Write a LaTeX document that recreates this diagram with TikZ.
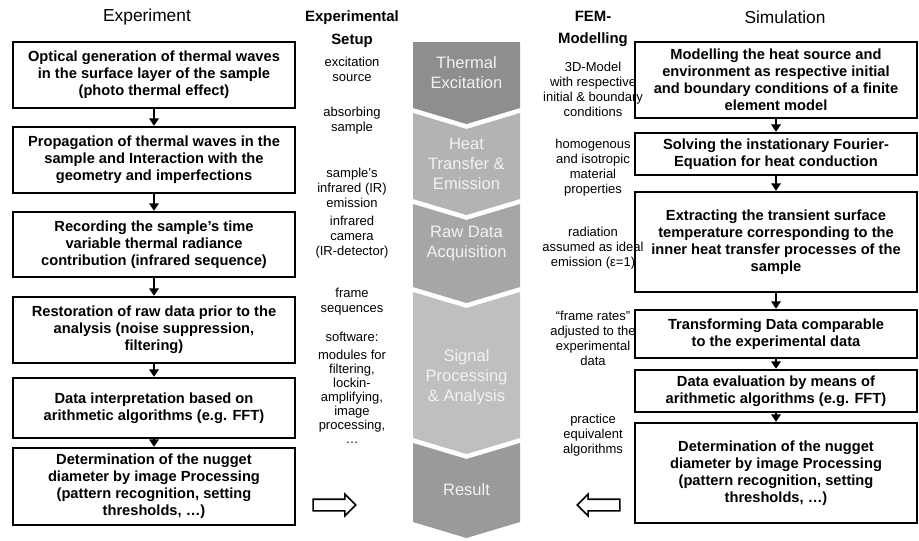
\documentclass[tikz,border=0pt]{standalone}
\usepackage{fontspec}
\setmainfont{Liberation Sans}
\usetikzlibrary{arrows.meta,shapes.arrows}

\definecolor{chevA}{HTML}{8E8E8E}
\definecolor{chevB}{HTML}{B3B3B3}
\definecolor{chevC}{HTML}{A6A6A6}
\definecolor{chevD}{HTML}{BFBFBF}
\definecolor{chevE}{HTML}{9A9A9A}

\begin{document}
\begin{tikzpicture}[x=0.75pt,y=-0.75pt,
    box/.style={draw,line width=1.8pt,minimum width=211.5pt,inner sep=0pt,align=center,
      font=\fontsize{11}{12.75}\selectfont\bfseries},
    flow/.style={-{Triangle[width=7pt,length=5.5pt]},line width=1.5pt},
    head/.style={font=\fontsize{13}{15}\selectfont},
    colhead/.style={align=center,font=\fontsize{11.2}{17}\selectfont\bfseries},
    note/.style={align=center,font=\fontsize{9.75}{11.25}\selectfont},
    chevtext/.style={align=center,text=white!95!black,font=\fontsize{12.4}{15}\selectfont},
    hollow/.style={single arrow,draw,line width=1.2pt,inner sep=3.75pt,minimum height=32pt,
      single arrow head extend=3.75pt,single arrow head indent=0pt}]
  \useasboundingbox (0,0) rectangle (919,540);

  \foreach \ya/\yb/\dn/\col in {42/108/0/chevA,113/199/16/chevB,204/287/16/chevC,292/438/16/chevD,443/522/16/chevE}
    \fill[\col] (413,\ya) -- (466.5,{\ya+\dn}) -- (520,\ya) -- (520,\yb) -- (466.5,{\yb+16}) -- (413,\yb) -- cycle;

  \node[chevtext] (thermal) at (466.5,73) {Thermal\\Excitation};
  \node[chevtext] (heat) at (466.5,164) {Heat\\Transfer \&\\Emission};
  \node[chevtext] (raw) at (466.5,244) {Raw Data\\Acquisition};
  \node[chevtext] (signal) at (466.5,377) {Signal\\Processing\\\& Analysis};
  \node[chevtext] (result) at (466.5,490) {Result};

  \node[head] (experiment) at (147,17) {Experiment};
  \node[head] (simulation) at (785,17) {Simulation};
  \node[colhead] (setup) at (352,29) {Experimental\\Setup};
  \node[colhead] (fem) at (593,29) {FEM-\\Modelling};

  \node[box,minimum height=49.5pt] (exp1) at (154,75) {Optical generation of thermal waves\\in the surface layer of the sample\\(photo thermal effect)};
  \node[box,minimum height=49.5pt] (exp2) at (154,160) {Propagation of thermal waves in the\\sample and Interaction with the\\geometry and imperfections};
  \node[box,minimum height=48.75pt] (exp3) at (154,244.5) {Recording the sample’s time\\variable thermal radiance\\contribution (infrared sequence)};
  \node[box,minimum height=49.5pt] (exp4) at (154,330) {Restoration of raw data prior to the\\analysis (noise suppression,\\filtering)};
  \node[box,minimum height=45pt] (exp5) at (154,408) {Data interpretation based on\\arithmetic algorithms (e.g. FFT)};
  \node[box,minimum height=57.75pt] (exp6) at (154,486.5) {Determination of the nugget\\diameter by image Processing\\(pattern recognition, setting\\thresholds, …)};

  \node[box,minimum height=57pt] (sim1) at (776,80) {Modelling the heat source and\\environment as respective initial\\and boundary conditions of a finite\\element model};
  \node[box,minimum height=31.5pt] (sim2) at (776,154) {Solving the instationary Fourier-\\Equation for heat conduction};
  \node[box,minimum height=75pt] (sim3) at (776,242) {Extracting the transient surface\\temperature corresponding to the\\inner heat transfer processes of the\\sample};
  \node[box,minimum height=36pt] (sim4) at (776,334) {Transforming Data comparable\\to the experimental data};
  \node[box,minimum height=31.5pt] (sim5) at (776,391) {Data evaluation by means of\\arithmetic algorithms (e.g. FFT)};
  \node[box,minimum height=75pt] (sim6) at (776,473) {Determination of the nugget\\diameter by image Processing\\(pattern recognition, setting\\thresholds, …)};

  \foreach \a/\b in {1/2,2/3,3/4,4/5,5/6}{
    \draw[flow] (exp\a) -- (exp\b);
    \draw[flow] (sim\a) -- (sim\b);
  }

  \node[note] (source) at (352,69) {excitation\\source};
  \node[note] (absorb) at (352,120.5) {absorbing\\sample};
  \node[note] (emission) at (352,188) {sample's\\infrared (IR)\\emission};
  \node[note] (camera) at (352,237) {infrared\\camera\\(IR-detector)};
  \node[note] (frames) at (352,302) {frame\\sequences};
  \node[note] (software) at (352,337) {software:};
  \node[note,font=\fontsize{9.75}{10.5}\selectfont] (modules) at (352,397) {modules for\\filtering,\\lockin-\\amplifying,\\image\\processing,\\…};

  \node[note] (model) at (593,89) {3D-Model\\with respective\\initial \& boundary\\conditions};
  \node[note] (material) at (593,168) {homogenous\\and isotropic\\material\\properties};
  \node[note] (radiation) at (593,248) {radiation\\assumed as ideal\\emission (ε=1)};
  \node[note] (rates) at (593,338) {“frame rates”\\adjusted to the\\experimental\\data};
  \node[note] (practice) at (593,435) {practice\\equivalent\\algorithms};

  \node[hollow] (toleft) at (331.5,505) {};
  \node[hollow,shape border rotate=180] (toright) at (601.5,505) {};
\end{tikzpicture}
\end{document}
